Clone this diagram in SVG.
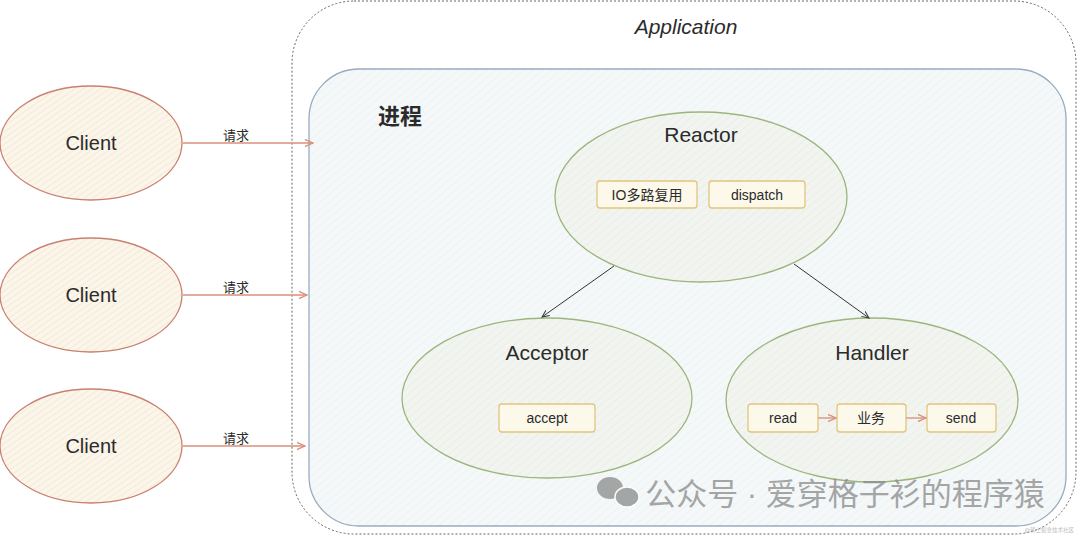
<svg xmlns="http://www.w3.org/2000/svg" width="1080" height="537" viewBox="0 0 1080 537">
<defs>
<pattern id="hatchClient" width="5" height="5" patternUnits="userSpaceOnUse" patternTransform="rotate(-35)">
<rect width="5" height="5" fill="#fbf5ea"/>
<line x1="0" y1="0" x2="5" y2="0" stroke="#e8d9c2" stroke-width="0.8"/>
</pattern>
<pattern id="hatchProc" width="6" height="6" patternUnits="userSpaceOnUse" patternTransform="rotate(-40)">
<rect width="6" height="6" fill="#f5f8f9"/>
<line x1="0" y1="0" x2="6" y2="0" stroke="#e3e9ed" stroke-width="0.8"/>
</pattern>
<pattern id="hatchGreen" width="6" height="6" patternUnits="userSpaceOnUse" patternTransform="rotate(-40)">
<rect width="6" height="6" fill="#f1f4ef"/>
<line x1="0" y1="0" x2="6" y2="0" stroke="#e1e6de" stroke-width="0.8"/>
</pattern>
<marker id="arrRed" viewBox="0 0 10 10" refX="9" refY="5" markerWidth="7" markerHeight="7" orient="auto">
<path d="M0,1 L9,5 L0,9" fill="none" stroke="#d98f7a" stroke-width="1.4"/>
</marker>
<marker id="arrBlack" viewBox="0 0 10 10" refX="9" refY="5" markerWidth="8" markerHeight="8" orient="auto">
<path d="M0,1 L9,5 L0,9" fill="none" stroke="#333" stroke-width="1.2"/>
</marker>
</defs>
<style>
text{font-family:"Liberation Sans","Noto Sans CJK SC",sans-serif;fill:#2b2b2b;text-anchor:middle}
.client{fill:url(#hatchClient);stroke:#c98070;stroke-width:1.3}
.comp{fill:url(#hatchGreen);stroke:#9cb57d;stroke-width:1.3}
.box{fill:#fcf8ea;stroke:#e2c57f;stroke-width:1.3}
.lbl{font-size:20px}
.title{font-size:21px}
.small{font-size:14px}
.req{font-size:13px}
.red{stroke:#d98f7a;stroke-width:1.3;fill:none}
.blk{stroke:#333;stroke-width:1;fill:none}
</style>
<rect width="1080" height="537" fill="#ffffff"/>
<g id="application">
<rect x="292" y="1" width="784" height="533" rx="62" fill="none" stroke="#666" stroke-width="1" stroke-dasharray="2,2"/>
<text x="686" y="34" font-size="21" font-style="italic">Application</text>
</g>
<g id="process">
<rect x="309" y="69" width="757" height="457" rx="50" fill="url(#hatchProc)" stroke="#9aabbf" stroke-width="1.3"/>
<text x="400" y="124" font-size="22" font-weight="bold">进程</text>
</g>
<g id="client1">
<ellipse cx="91" cy="143" rx="91" ry="57" class="client"/>
<text x="91" y="150" class="lbl">Client</text>
</g>
<g id="client2">
<ellipse cx="91" cy="295" rx="91" ry="57" class="client"/>
<text x="91" y="302" class="lbl">Client</text>
</g>
<g id="client3">
<ellipse cx="91" cy="446" rx="91" ry="57" class="client"/>
<text x="91" y="453" class="lbl">Client</text>
</g>
<g id="reactor">
<ellipse cx="701" cy="197" rx="146" ry="85" class="comp"/>
<text x="701" y="142" class="title">Reactor</text>
<rect x="597" y="181" width="100" height="27" rx="3" class="box"/>
<text x="647" y="200" class="small">IO多路复用</text>
<rect x="709" y="181" width="96" height="27" rx="3" class="box"/>
<text x="757" y="200" class="small">dispatch</text>
</g>
<g id="acceptor">
<ellipse cx="547" cy="398" rx="145" ry="80" class="comp"/>
<text x="547" y="360" class="title">Acceptor</text>
<rect x="499" y="404" width="96" height="28" rx="3" class="box"/>
<text x="547" y="423" class="small">accept</text>
</g>
<g id="handler">
<ellipse cx="872" cy="400" rx="146" ry="82" class="comp"/>
<text x="872" y="360" class="title">Handler</text>
<rect x="748" y="404" width="70" height="28" rx="3" class="box"/>
<text x="783" y="423" class="small">read</text>
<rect x="837" y="404" width="69" height="28" rx="3" class="box"/>
<text x="871" y="423" class="small">业务</text>
<rect x="927" y="404" width="69" height="28" rx="3" class="box"/>
<text x="961" y="423" class="small">send</text>
</g>
<g id="connectors">
<line x1="183" y1="143" x2="313" y2="143" class="red" marker-end="url(#arrRed)"/>
<text x="236" y="140" class="req">请求</text>
<line x1="183" y1="295" x2="307" y2="295" class="red" marker-end="url(#arrRed)"/>
<text x="236" y="292" class="req">请求</text>
<line x1="183" y1="446" x2="305" y2="446" class="red" marker-end="url(#arrRed)"/>
<text x="236" y="443" class="req">请求</text>
<line x1="614" y1="266" x2="542" y2="317" class="blk" marker-end="url(#arrBlack)"/>
<line x1="794" y1="264" x2="869" y2="318" class="blk" marker-end="url(#arrBlack)"/>
<line x1="818" y1="418" x2="836" y2="418" class="red" marker-end="url(#arrRed)"/>
<line x1="906" y1="418" x2="926" y2="418" class="red" marker-end="url(#arrRed)"/>
</g>
<g id="watermark" opacity="0.75">
<ellipse cx="610" cy="488" rx="13" ry="11" fill="#8a8a8a"/>
<ellipse cx="627" cy="497" rx="12" ry="10" fill="#8a8a8a" stroke="#fff" stroke-width="1.5"/>
<text x="845" y="505" font-size="31" style="fill:#8a8a8a">公众号 · 爱穿格子衫的程序猿</text>
<text x="1074" y="532" font-size="5.5" style="fill:#aaa;text-anchor:end">@稀土掘金技术社区</text>
</g>
</svg>
